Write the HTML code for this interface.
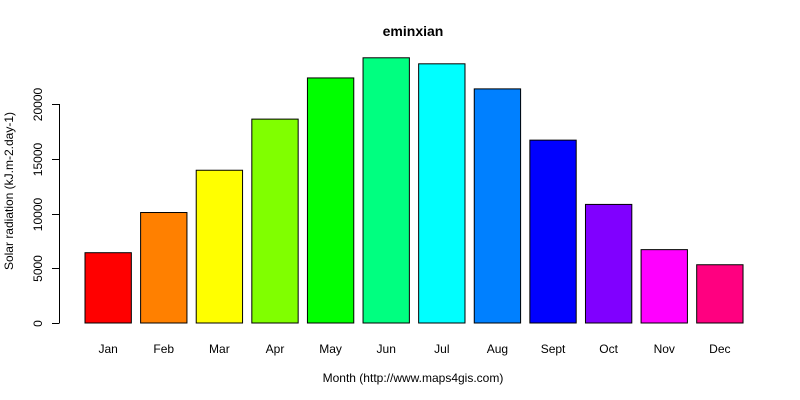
<!DOCTYPE html>
<html><head><meta charset="utf-8"><style>
body{margin:0;background:#fff}
svg{display:block;font-family:"Liberation Sans",Arial,sans-serif}
</style></head><body>
<svg id="chart" width="800" height="400" viewBox="0 0 800 400">
<text x="413" y="36" text-anchor="middle" font-weight="bold" font-size="14">eminxian</text>
<text x="413" y="382" text-anchor="middle" font-size="12">Month (http://www.maps4gis.com)</text>
<text transform="translate(13,191) rotate(-90)" text-anchor="middle" font-size="12">Solar radiation (kJ.m-2.day-1)</text>
<g id="bars"></g><g id="yaxis"></g><g id="xlabels"></g>
</svg>
<script>
const months=["Jan","Feb","Mar","Apr","May","Jun","Jul","Aug","Sept","Oct","Nov","Dec"];
const values=[6420,10090,13950,18620,22380,24220,23670,21380,16700,10830,6700,5320];
const colors=["#FF0000","#FF8000","#FFFF00","#80FF00","#00FF00","#00FF80","#00FFFF","#0080FF","#0000FF","#8000FF","#FF00FF","#FF0080"];
const yTicks=[0,5000,10000,15000,20000];
const NS="http://www.w3.org/2000/svg";
function y(v){return 323-(v/20000)*219;}
function xL(i){return 85+(0.2+i*1.2-0.2)*46.34;}
const bw=46.34;
function mk(t,a,p){const e=document.createElementNS(NS,t);for(const k in a)e.setAttribute(k,a[k]);p.appendChild(e);return e;}
const gb=document.getElementById('bars'),gy=document.getElementById('yaxis'),gx=document.getElementById('xlabels');
values.forEach((v,i)=>{
  const r=mk('rect',{x:xL(i),y:y(v),width:bw,height:323-y(v),fill:colors[i],stroke:'#000','stroke-width':1},gb);
  
  
  const t=mk('text',{x:xL(i)+bw/2,y:353,'text-anchor':'middle','font-size':12},gx);
  t.textContent=months[i];
  
  
});
const al=mk('line',{x1:59.5,x2:59.5,y1:y(0),y2:y(20000),stroke:'#000'},gy);


yTicks.forEach(v=>{
  const yy=Math.round(y(v))+0.5;
  const tk=mk('line',{x1:52,x2:59.5,y1:yy,y2:yy,stroke:'#000'},gy);
  
  
  const t=mk('text',{transform:`translate(42,${yy}) rotate(-90)`,'text-anchor':'middle','font-size':12},gy);
  t.textContent=v;
  
  
});
</script>
</body></html>
